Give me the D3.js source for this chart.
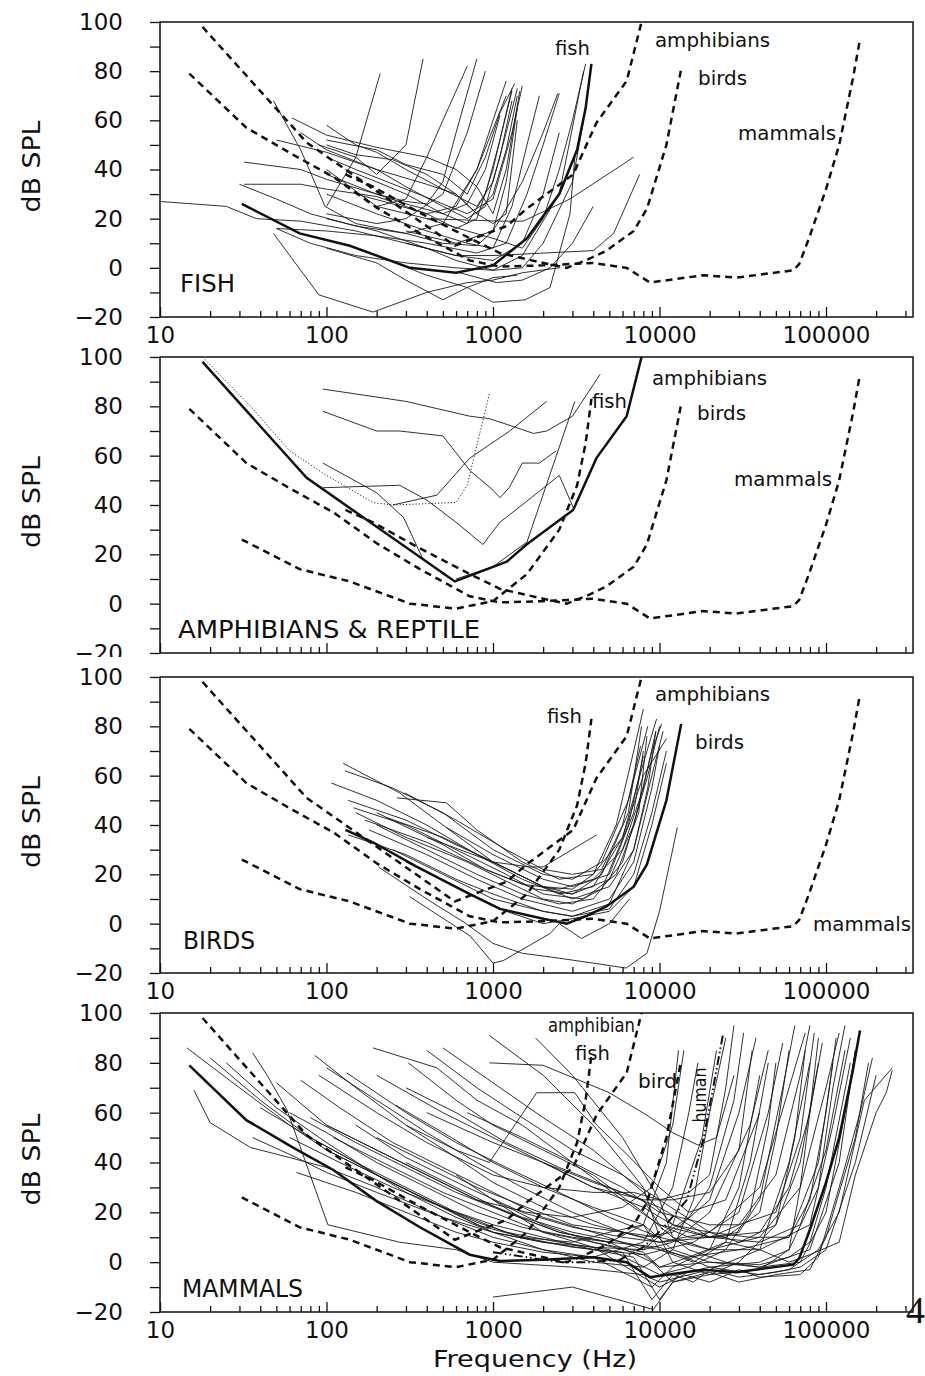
<!DOCTYPE html>
<html>
<head>
<meta charset="utf-8">
<script src="https://cdn.jsdelivr.net/npm/d3@7"></script>
<style>
body { margin: 0; background: #fff; }
svg text { font-family: "DejaVu Sans", sans-serif; fill: #111; }
</style>
</head>
<body>
<div id="chart"></div>
<script>
// Composite audiograms of each group: [frequency Hz, threshold dB SPL]
let fishRef = [[31,26],[69,14],[138,9],[317,0],[600,-2],[1000,1],[1600,12],[2500,30],[3200,48],[3600,65],[3900,83]];
let amphibianRef = [[18,98],[76,51],[590,9],[1210,17],[1590,24],[3030,38],[4180,59],[6350,76],[7800,100]];
let birdRef = [[130,38],[190,33],[350,23],[725,12],[1100,6],[2000,2],[2770,0],[3600,3],[4800,7],[7000,15],[8400,24],[11000,50],[13500,81]];
let mammalRef = [[15,79],[33,57],[63,46],[110,37],[200,24.5],[364,14],[725,3],[1100,0.5],[2000,1],[4000,2],[6340,0],[8770,-6],[18300,-3],[28900,-4],[63600,-1],[69000,1.5],[79000,12],[100000,32],[120000,50],[145000,77],[160000,93]];
let humanRef = [[1000,4],[2000,1],[2600,0],[3800,0],[5800,1],[8000,6],[10600,14],[14600,25],[18300,49],[21000,70],[24000,91]];

// Individual species audiograms
let fishAudiograms = [
    [[10,27],[25,25],[38,20],[70,19],[150,15],[300,10],[600,5],[1000,3],[1500,10],[2000,30],[2500,55]],
    [[48,68],[70,48],[98,25],[150,18],[300,14],[500,18],[800,40],[1200,70]],
    [[62,61],[100,54],[200,49],[400,45],[600,40],[800,33],[1000,22],[1200,40],[1450,72]],
    [[100,58],[150,50],[200,47],[300,40],[500,32],[800,25],[1000,35],[1200,55],[1400,73]],
    [[100,52],[200,48],[300,42],[500,38],[700,30],[900,45],[1100,63],[1350,75]],
    [[100,50],[150,46],[250,44],[400,38],[600,30],[800,22],[1000,30],[1200,48],[1400,70]],
    [[70,55],[100,48],[200,40],[300,33],[500,25],[700,20],[900,25],[1100,45],[1300,68]],
    [[50,52],[100,47],[200,40],[400,34],[600,30],[800,22],[1000,18],[1200,22],[1400,60]],
    [[100,45],[150,40],[300,32],[500,26],[700,22],[1000,28],[1300,55],[1500,74]],
    [[130,40],[200,35],[300,30],[500,22],[700,18],[900,30],[1100,52],[1300,72]],
    [[100,38],[200,30],[300,27],[400,26],[500,35],[600,55],[800,85]],
    [[100,40],[200,25],[300,28],[400,45],[500,60],[700,82]],
    [[90,50],[150,45],[200,38],[300,50],[380,85]],
    [[100,25],[150,45],[210,79]],
    [[100,22],[200,18],[300,20],[500,30],[700,55],[900,80]],
    [[32,43],[70,40],[100,36],[200,30],[300,26],[500,22],[700,26],[900,40],[1100,62]],
    [[32,34],[70,34],[100,32],[200,29],[400,22],[600,16],[800,20],[1000,40],[1300,73]],
    [[30,34],[50,28],[80,22],[150,17],[300,14],[500,10],[800,9],[1000,15],[1200,35],[1400,65]],
    [[50,16],[100,15],[200,13],[400,10],[800,6],[1200,10],[1600,30],[2000,50],[2500,71]],
    [[50,16],[80,10],[150,5],[300,2],[600,0],[1000,-1],[1500,5],[2500,30],[3500,80]],
    [[48,14],[90,-11],[190,-18],[400,-10],[700,-6],[1000,-5],[1500,-2],[2500,0]],
    [[100,8],[200,2],[300,-5],[500,-13],[700,-8],[1000,-4],[1400,-3]],
    [[100,20],[200,15],[400,8],[600,3],[1000,-1],[1500,0],[2000,10],[3000,35],[3500,60]],
    [[200,5],[400,-3],[700,-8],[1000,-14],[1560,-13],[2200,-8],[2900,22],[3100,45]],
    [[300,10],[600,5],[1000,5],[2000,6],[4000,7],[5300,14],[7600,38]],
    [[400,20],[1100,19],[1520,19],[2900,28],[7000,45]],
    [[630,-2],[1050,-6],[1500,-5],[2200,0],[3000,10],[4000,25]],
    [[200,25],[400,20],[700,15],[1000,12],[1500,8],[2000,20],[2500,40],[3000,60],[3600,83]],
    [[300,15],[600,10],[1000,15],[1500,35],[2000,55],[2450,71]],
    [[150,30],[250,26],[400,22],[600,25],[800,40],[1000,60],[1200,76]],
    [[100,30],[200,22],[400,15],[700,10],[1000,8],[1300,25],[1600,50],[1900,70]]
];

let amphibianAudiograms = [
    [[95,87],[300,82],[725,76],[950,75],[1300,72],[1750,69],[2100,70],[3000,76],[4400,93]],
    [[95,78],[200,70],[275,70],[500,68],[725,54],[1000,46],[1100,43],[1250,47],[1500,57],[1900,57],[2400,62]],
    [[95,57],[200,45],[290,35],[380,18],[500,12],[590,9]],
    [[250,40],[460,44],[725,59],[1260,70],[2100,82]],
    [[95,47],[275,48],[400,42],[600,33],[870,24],[1100,33],[1700,43],[2500,52],[2900,42],[3030,39]],
    [[600,10],[1000,15],[1600,25],[3100,82]]
];
let amphibianDotted = [[18.6,99],[35,80],[60,62],[100,52],[190,41],[250,40],[600,41],[700,48],[950,85]];

let birdAudiograms = [
    [[126,65],[275,53],[500,40],[1000,25],[2000,15],[3000,14],[4000,20],[5500,40],[7000,70],[8000,87]],
    [[129,62],[250,55],[500,45],[1000,30],[2000,20],[3000,18],[4500,25],[6500,50],[8500,80]],
    [[107,57],[200,50],[400,40],[800,28],[1500,18],[2500,12],[4000,15],[6000,35],[8000,65],[9600,83]],
    [[135,50],[300,42],[600,32],[1000,25],[2000,15],[3000,12],[5000,18],[7000,40],[9000,70],[10300,81]],
    [[145,47],[300,40],[600,30],[1200,20],[2000,12],[3500,10],[5500,20],[7500,45],[8400,76]],
    [[265,51],[525,49],[800,38],[1500,25],[2500,18],[4000,20],[6000,35],[8000,60],[11000,75]],
    [[295,53],[600,42],[1200,30],[2000,22],[3000,20],[4500,22],[6000,40],[7700,72]],
    [[230,43],[500,35],[1000,25],[2000,15],[3000,10],[5000,15],[7000,30],[8500,55],[9500,78]],
    [[205,23],[400,10],[690,0],[1000,-8],[1500,-12],[2500,-14],[4000,-16],[6300,-18],[8400,-12],[10000,5],[12800,39]],
    [[315,11],[730,-5],[1000,-16],[1150,-15],[2200,-4],[2500,0],[3400,-6],[5000,0],[6600,10]],
    [[525,39],[1000,28],[2000,18],[3000,15],[5000,20],[7000,45],[8000,70]],
    [[135,36],[300,28],[600,18],[1000,12],[2000,5],[3000,3],[5000,8],[7000,30],[9000,60],[10500,78]],
    [[200,40],[400,30],[800,20],[1500,12],[2500,8],[4000,10],[6000,25],[8500,60],[10000,80]],
    [[150,45],[300,35],[700,25],[1400,15],[2000,10],[3000,8],[4500,14],[6500,40],[8000,68]],
    [[400,35],[1000,25],[1660,23],[2000,23],[4200,36]],
    [[250,30],[500,20],[1000,10],[2000,5],[3000,3],[5000,6],[7000,20],[9000,45],[11000,70]],
    [[180,38],[400,28],[800,18],[1500,10],[3000,5],[5000,10],[7000,25],[9000,55],[10000,72]],
    [[300,25],[600,15],[1200,5],[2000,0],[3000,2],[5000,5],[7000,15],[9000,40],[11000,65]],
    [[200,45],[500,32],[900,22],[1800,14],[3000,12],[4500,20],[6500,45],[7800,80]],
    [[170,42],[400,33],[900,22],[1500,16],[2500,14],[4000,18],[6000,30],[8000,55],[9500,78]]
];

let mammalAudiograms = [
    [[14.5,86],[30,70],[60,55],[100,45],[200,35],[500,22],[1000,12],[2000,5],[4000,0],[8000,-2],[12000,5],[16000,25],[20000,60],[25000,90]],
    [[16,69],[20,56],[35,46],[60,42],[100,38],[200,30],[500,18],[1000,10],[2000,5],[4000,2],[8000,8],[12000,30],[15000,60],[17000,80]],
    [[20,82],[40,65],[80,50],[150,40],[300,28],[600,18],[1000,12],[2000,8],[4000,5],[8000,3],[16000,8],[30000,20],[45000,60],[55000,88]],
    [[36,84],[44,75],[58,61],[102,15],[275,8],[600,5],[1000,0],[3000,-2],[8000,-5],[10000,-8],[20000,-3],[40000,5],[60000,40],[80000,80]],
    [[85,83],[150,70],[300,55],[600,42],[1000,32],[2000,22],[4000,15],[8000,10],[12000,12],[20000,25],[30000,60],[38000,90]],
    [[70,73],[120,62],[250,48],[500,38],[1000,28],[2000,18],[4000,12],[8000,5],[12000,8],[20000,20],[35000,55],[45000,85]],
    [[100,78],[200,65],[400,52],[800,40],[1500,30],[3000,20],[6000,12],[10000,8],[20000,12],[40000,30],[60000,70],[75000,92]],
    [[132,76],[300,60],[600,48],[1200,38],[2500,28],[5000,18],[10000,10],[20000,5],[40000,10],[70000,30],[100000,70],[120000,92]],
    [[190,86],[460,78],[800,65],[1500,55],[3000,40],[6000,25],[10000,15],[20000,10],[40000,12],[60000,30],[80000,60],[95000,88]],
    [[310,80],[600,65],[1000,55],[2000,45],[4000,35],[8000,20],[12000,10],[20000,5],[40000,5],[80000,15],[110000,55],[140000,90]],
    [[500,86],[1000,72],[2000,58],[4000,45],[8000,28],[12000,15],[20000,10],[40000,8],[70000,15],[100000,45],[130000,85]],
    [[260,63],[500,52],[1000,40],[2000,30],[4000,22],[8000,15],[12000,5],[20000,0],[40000,-2],[80000,5],[120000,40],[150000,85]],
    [[36,50],[66,42],[100,36],[200,28],[500,18],[1000,12],[2000,8],[4000,6],[8000,5],[12000,15],[18000,50],[22000,85]],
    [[66,36],[150,28],[300,20],[600,12],[1000,8],[2000,4],[4000,2],[9000,-10],[12000,-2],[20000,5],[30000,30],[40000,75]],
    [[950,80],[2000,79],[5000,68],[8400,59],[12000,52],[17000,47],[22000,50],[28000,75]],
    [[300,55],[600,45],[950,40],[1830,68],[3100,68],[4200,55],[6000,45],[10000,30],[15000,20],[25000,25],[40000,60]],
    [[950,91],[2000,75],[4000,55],[8000,30],[10000,10],[12000,0],[20000,-5],[40000,-3],[60000,5],[90000,30],[110000,70],[130000,95]],
    [[1800,90],[3000,75],[6000,50],[10000,25],[12000,10],[15000,5],[25000,0],[40000,-2],[70000,0],[100000,20],[130000,60],[150000,85]],
    [[400,85],[800,70],[1500,58],[3000,45],[6000,35],[10000,25],[20000,12],[30000,8],[50000,15],[70000,40],[90000,80]],
    [[80,58],[150,48],[300,38],[600,28],[1200,20],[2500,12],[5000,8],[9000,0],[12000,-8],[20000,-5],[30000,0],[50000,15],[65000,50],[75000,85]],
    [[100,55],[200,45],[400,35],[800,25],[1500,18],[3000,12],[6000,8],[10000,5],[15000,2],[30000,5],[60000,10],[90000,40],[110000,80]],
    [[60,60],[100,52],[200,40],[400,30],[800,20],[1500,14],[3000,10],[5000,8],[8000,15],[10000,5],[16000,0],[25000,8],[35000,40],[45000,80]],
    [[40,62],[80,50],[150,40],[300,30],[600,20],[1200,12],[2500,8],[5000,5],[10000,-5],[15000,-2],[25000,5],[35000,20],[45000,55],[50000,80]],
    [[110,50],[250,38],[500,28],[1000,20],[2000,12],[4000,8],[8000,4],[10000,-2],[20000,0],[40000,-1],[60000,2],[80000,8],[100000,30],[140000,80]],
    [[150,55],[300,42],[700,30],[1500,20],[3000,14],[6000,10],[10000,8],[20000,10],[30000,15],[50000,35],[70000,75],[80000,95]],
    [[200,50],[400,40],[800,30],[1600,22],[3000,15],[6000,12],[10000,10],[15000,18],[20000,30],[28000,65],[32000,92]],
    [[100,45],[200,35],[400,25],[800,16],[1500,10],[3000,6],[6000,4],[9000,-15],[12000,-5],[16000,-8],[20000,-3],[30000,-6],[50000,-4],[70000,-2],[100000,5],[150000,40],[200000,75]],
    [[300,40],[600,30],[1200,20],[2500,12],[5000,8],[10000,6],[20000,-2],[40000,-5],[60000,-3],[90000,5],[120000,20],[170000,65],[250000,78]],
    [[1000,25],[2000,12],[4000,6],[10000,-10],[14000,-5],[20000,-8],[30000,-3],[40000,-6],[70000,-5],[90000,2],[120000,30],[160000,60],[190000,82]],
    [[25,80],[50,62],[100,48],[200,35],[400,25],[800,15],[1500,10],[3000,8],[5000,12],[8000,15],[11000,40],[13000,85]],
    [[50,72],[100,55],[200,45],[400,35],[800,25],[1600,20],[3000,18],[6000,22],[9000,30],[12000,55],[14000,85]],
    [[90,75],[200,60],[400,48],[1000,35],[2000,30],[4000,28],[7000,28],[10000,25],[15000,28],[20000,35],[25000,70],[28000,95]],
    [[400,60],[1000,48],[2000,40],[4000,30],[8000,22],[12000,15],[20000,12],[35000,10],[60000,10],[80000,25],[100000,60],[115000,90]],
    [[600,35],[1000,25],[2000,15],[4000,8],[8000,3],[10000,-2],[15000,2],[25000,8],[40000,5],[60000,0],[80000,3],[120000,8],[150000,35],[200000,60],[230000,68],[250000,77]],
    [[2000,40],[4000,30],[8000,25],[12000,25],[20000,28],[30000,45],[36000,85]],
    [[300,70],[600,60],[1200,48],[2500,38],[5000,30],[10000,22],[15000,15],[20000,10],[30000,12],[40000,25],[55000,70],[65000,95]],
    [[700,60],[1500,50],[3000,40],[6000,30],[10000,20],[20000,15],[30000,15],[50000,20],[70000,50],[85000,92]],
    [[200,75],[500,60],[1000,50],[2000,40],[4000,32],[8000,25],[10000,15],[15000,10],[25000,10],[40000,20],[50000,50],[60000,85]],
    [[60,50],[120,40],[250,30],[500,22],[1000,15],[2000,10],[4000,5],[7000,2],[10000,-15],[13000,-5],[20000,-2],[40000,0],[60000,5],[70000,30],[80000,60],[90000,90]],
    [[1000,-14],[3000,-10],[9200,-19],[12000,-8],[20000,-4],[30000,-8],[50000,-5],[80000,-3],[100000,10],[150000,50],[180000,80]]
];

// Axis ticks
let yTicks = [-20, -10, 0, 10, 20, 30, 40, 50, 60, 70, 80, 90, 100];
let xMajorTicks = [10, 100, 1000, 10000, 100000];

let svgWidth = 925, svgHeight = 1376;
let plotLeft = 160, plotRight = 913;

let svg = d3.select('#chart')
    .append('svg')
    .attr('width', svgWidth)
    .attr('height', svgHeight);

let xScale = d3.scaleLog()
    .domain([10, 333000])
    .range([plotLeft, plotRight]);

// minor x ticks 20..90 of each decade up to the right edge
let xMinorTicks = [];
xMajorTicks.forEach(d => {
    for (let k = 2; k <= 9; k++) {
        if (k * d <= 333000) xMinorTicks.push(k * d);
    }
});

let refCurves = [
    {key: 'fish', data: fishRef},
    {key: 'amphibians', data: amphibianRef},
    {key: 'birds', data: birdRef},
    {key: 'mammals', data: mammalRef}
];

let panels = [
    {focus: 'fish', top: 22, bottom: 317, lines: fishAudiograms, xLabels: true,
        title: 'FISH', titleX: 180, titleDy: 270, titleW: 55,
        labels: [
            {text: 'fish', x: 555, dy: 33, w: 35},
            {text: 'amphibians', x: 655, dy: 25, w: 115},
            {text: 'birds', x: 698, dy: 63, w: 49},
            {text: 'mammals', x: 738, dy: 118, w: 98}
        ]},
    {focus: 'amphibians', top: 357, bottom: 653, lines: amphibianAudiograms, xLabels: false, cutAt: 657,
        title: 'AMPHIBIANS & REPTILE', titleX: 178, titleDy: 281, titleW: 302,
        labels: [
            {text: 'fish', x: 592, dy: 51, w: 35},
            {text: 'amphibians', x: 652, dy: 28, w: 115},
            {text: 'birds', x: 697, dy: 63, w: 49},
            {text: 'mammals', x: 734, dy: 129, w: 98}
        ]},
    {focus: 'birds', top: 677, bottom: 973, lines: birdAudiograms, xLabels: true,
        title: 'BIRDS', titleX: 183, titleDy: 272, titleW: 72,
        labels: [
            {text: 'amphibians', x: 655, dy: 24, w: 115},
            {text: 'fish', x: 547, dy: 46, w: 35},
            {text: 'birds', x: 695, dy: 72, w: 49},
            {text: 'mammals', x: 813, dy: 254, w: 98}
        ]},
    {focus: 'mammals', top: 1013, bottom: 1312, lines: mammalAudiograms, xLabels: true,
        title: 'MAMMALS', titleX: 182, titleDy: 284, titleW: 121,
        labels: [
            {text: 'amphibian', x: 548, dy: 19, w: 87},
            {text: 'fish', x: 575, dy: 47, w: 35},
            {text: 'bird', x: 638, dy: 75, w: 39}
        ]}
];

panels.forEach((p, i) => {
    let yScale = d3.scaleLinear().domain([-20, 100]).range([p.bottom, p.top]);
    let line = d3.line().x(d => xScale(d[0])).y(d => yScale(d[1]));

    let g = svg.append('g');
    if (p.cutAt) {
        svg.append('clipPath').attr('id', 'cut' + i)
            .append('rect').attr('x', 0).attr('y', 0).attr('width', svgWidth).attr('height', p.cutAt);
        g.attr('clip-path', `url(#cut${i})`);
    }

    svg.append('clipPath').attr('id', 'plot' + i)
        .append('rect')
        .attr('x', plotLeft).attr('y', p.top)
        .attr('width', plotRight - plotLeft).attr('height', p.bottom - p.top);

    let plot = g.append('g').attr('clip-path', `url(#plot${i})`);

    // individual audiograms
    plot.selectAll('path.thin')
        .data(p.lines)
        .enter()
        .append('path')
        .attr('class', 'thin')
        .attr('d', line)
        .attr('fill', 'none')
        .attr('stroke', '#1a1a1a')
        .attr('stroke-width', 0.9);

    if (p.focus === 'amphibians') {
        plot.append('path')
            .attr('d', line(amphibianDotted))
            .attr('fill', 'none')
            .attr('stroke', '#222')
            .attr('stroke-width', 1)
            .attr('stroke-dasharray', '1.2,2');
    }

    if (p.focus === 'mammals') {
        plot.append('path')
            .attr('d', line(humanRef))
            .attr('fill', 'none')
            .attr('stroke', '#111')
            .attr('stroke-width', 2)
            .attr('stroke-dasharray', '9,3,1.5,3,1.5,3');
    }

    // composite curves: focus group solid, others dashed
    refCurves.forEach(c => {
        let path = plot.append('path')
            .attr('d', line(c.data))
            .attr('fill', 'none')
            .attr('stroke', '#111')
            .attr('stroke-width', 2.5);
        if (c.key !== p.focus) path.attr('stroke-dasharray', '7,5');
    });

    // frame
    g.append('rect')
        .attr('x', plotLeft).attr('y', p.top)
        .attr('width', plotRight - plotLeft).attr('height', p.bottom - p.top)
        .attr('fill', 'none')
        .attr('stroke', '#111')
        .attr('stroke-width', 1.5);

    // y axis
    let leftAxis = d3.axisLeft(yScale)
        .tickValues(yTicks)
        .tickSize(10)
        .tickPadding(27)
        .tickFormat(d => d % 20 === 0 ? (d < 0 ? '\u2212' + Math.abs(d) : d) : '');
    let yAxis = g.append('g')
        .attr('transform', `translate(${plotLeft}, 0)`)
        .call(leftAxis);
    yAxis.select('.domain').remove();
    yAxis.selectAll('line').attr('stroke', '#111').attr('stroke-width', 1.3);
    yAxis.selectAll('text')
        .style('font-family', '"DejaVu Sans", sans-serif')
        .style('font-size', '23px')
        .attr('fill', '#111');

    // x axis: inside ticks
    let minorAxis = d3.axisBottom(xScale).tickValues(xMinorTicks).tickSize(-6).tickFormat('');
    let xMinor = g.append('g')
        .attr('transform', `translate(0, ${p.bottom})`)
        .call(minorAxis);
    xMinor.select('.domain').remove();

    let majorAxis = d3.axisBottom(xScale)
        .tickValues(xMajorTicks)
        .tickSize(-10)
        .tickPadding(10)
        .tickFormat(d => p.xLabels ? d : '');
    let xMajor = g.append('g')
        .attr('transform', `translate(0, ${p.bottom})`)
        .call(majorAxis);
    xMajor.select('.domain').remove();
    g.selectAll('.tick line').attr('stroke', '#111').attr('stroke-width', 1.3);
    xMajor.selectAll('text')
        .style('font-family', '"DejaVu Sans", sans-serif')
        .style('font-size', '23px')
        .attr('fill', '#111');

    // y label
    g.append('text')
        .attr('transform', `translate(40, ${(p.top + p.bottom) / 2 - 3}) rotate(-90)`)
        .attr('text-anchor', 'middle')
        .attr('textLength', 92)
        .attr('lengthAdjust', 'spacingAndGlyphs')
        .style('font-size', '24px')
        .text('dB SPL');

    // panel title
    g.append('text')
        .attr('x', p.titleX)
        .attr('y', p.top + p.titleDy)
        .attr('textLength', p.titleW)
        .attr('lengthAdjust', 'spacingAndGlyphs')
        .style('font-size', '25px')
        .text(p.title);

    // curve labels
    p.labels.forEach(l => {
        g.append('text')
            .attr('x', l.x)
            .attr('y', p.top + l.dy)
            .attr('textLength', l.w)
            .attr('lengthAdjust', 'spacingAndGlyphs')
            .style('font-size', '19px')
            .text(l.text);
    });

    if (p.focus === 'mammals') {
        g.append('text')
            .attr('transform', `translate(706, ${p.top + 82}) rotate(-90)`)
            .attr('text-anchor', 'middle')
            .attr('textLength', 55)
            .attr('lengthAdjust', 'spacingAndGlyphs')
            .style('font-size', '18px')
            .text('human');
    }
});

// x axis title
svg.append('text')
    .attr('x', 535)
    .attr('y', 1367)
    .attr('text-anchor', 'middle')
    .attr('textLength', 204)
    .attr('lengthAdjust', 'spacingAndGlyphs')
    .style('font-size', '23px')
    .text('Frequency (Hz)');

// page number
svg.append('text')
    .attr('x', 906)
    .attr('y', 1323)
    .style('font-family', '"Liberation Serif", serif')
    .style('font-size', '38px')
    .text('4');
</script>
</body>
</html>
